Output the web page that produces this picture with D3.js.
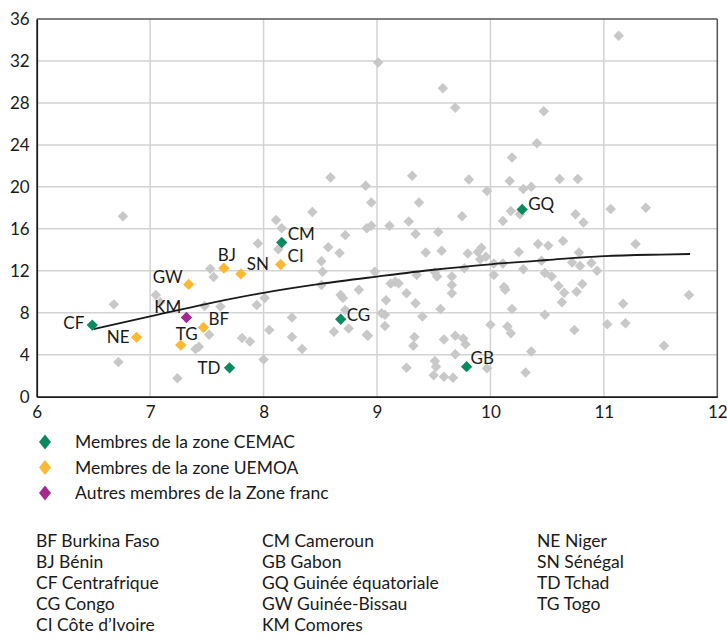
<!DOCTYPE html>
<html>
<head>
<meta charset="utf-8">
<script src="https://cdn.jsdelivr.net/npm/d3@7"></script>
<style>
  body { margin: 0; background: #fff; }
  svg text { font-family: Lato, "Open Sans", sans-serif; fill: #1a1a1a; }
</style>
</head>
<body>
<div id="chart"></div>
<script>
// gray points: other countries [x, y]
var otherPoints = [
  [6.76,17.2],[6.68,8.8],[6.72,3.3],[7.05,9.7],[7.09,9.0],[7.24,1.75],[7.53,12.2],[7.56,11.4],
  [7.48,8.65],[7.62,8.6],[7.52,5.9],[7.40,4.55],[7.43,4.75],[7.95,14.6],[7.94,8.75],[8.01,9.4],
  [7.81,5.6],[7.88,5.25],[8.05,6.35],[8.00,3.55],[8.11,16.85],[8.16,16.05],[8.13,14.05],[8.25,7.55],
  [8.25,5.7],[8.34,4.55],[8.43,17.6],[8.57,14.25],[8.51,12.9],[8.52,11.9],[8.51,10.65],[8.67,13.7],
  [8.72,15.4],[8.91,16.05],[8.68,9.7],[8.70,9.4],[8.62,6.2],[8.75,6.5],[8.72,8.27],[8.84,10.2],
  [8.91,5.9],[9.01,31.85],[9.58,29.4],[9.69,27.55],[8.59,20.9],[8.90,20.1],[9.31,21.05],[9.81,20.7],
  [8.95,18.5],[9.37,18.5],[9.75,17.2],[8.95,16.3],[9.11,16.3],[9.28,16.7],[9.34,15.5],[9.54,15.7],
  [8.98,11.9],[9.43,13.75],[9.57,13.9],[9.80,13.65],[9.51,11.85],[9.53,11.45],[9.66,11.45],[9.66,10.65],
  [9.66,9.85],[9.35,11.6],[9.12,10.8],[9.16,10.95],[9.19,10.8],[9.26,9.85],[9.08,9.2],[9.34,8.9],
  [9.56,8.35],[9.04,7.95],[9.07,7.8],[9.40,7.65],[9.07,6.75],[8.92,5.8],[9.33,5.7],[9.32,4.85],
  [9.59,5.45],[9.69,5.8],[9.76,5.55],[9.78,5.0],[9.51,3.4],[9.52,2.85],[9.69,4.05],[9.26,2.75],
  [9.50,2.05],[9.59,1.9],[9.67,1.8],[9.92,14.2],[9.89,13.8],[9.96,13.35],[9.91,13.1],[9.77,12.25],
  [10.03,12.7],[10.03,11.6],[10.11,12.7],[9.97,2.7],[10.0,6.85],[10.19,8.35],[10.15,6.7],[10.18,6.05],
  [10.36,4.3],[10.31,2.3],[10.12,10.45],[10.13,10.2],[10.29,12.15],[11.13,34.4],[10.47,27.2],[10.41,24.15],
  [10.19,22.8],[10.17,20.55],[10.61,20.75],[10.77,20.75],[9.97,19.6],[10.29,19.8],[10.36,20.0],[10.18,17.7],
  [10.26,17.4],[10.11,16.75],[10.75,17.4],[10.82,16.6],[11.06,17.9],[11.37,18.0],[10.25,13.8],[10.42,14.55],
  [10.51,14.4],[10.64,14.85],[10.45,12.95],[10.48,11.8],[10.54,11.45],[10.78,13.75],[10.72,12.8],[10.79,12.45],
  [10.89,12.75],[10.94,12.0],[10.60,10.55],[10.65,9.9],[10.81,10.75],[10.76,10.0],[10.63,9.0],[10.48,7.8],
  [10.74,6.35],[11.28,14.55],[11.17,8.85],[11.03,6.9],[11.19,7.0],[11.53,4.85],[11.75,9.7]
];

// Zone franc countries
var codes  = ["CF","NE","GW","BJ","SN","CI","CM","KM","BF","TG","TD","CG","GB","GQ"];
var xs     = [6.49,6.88,7.34,7.65,7.80,8.15,8.16,7.32,7.47,7.27,7.70,8.68,9.79,10.28];
var ys     = [6.83,5.66,10.7,12.25,11.7,12.6,14.7,7.55,6.6,4.93,2.75,7.38,2.86,17.85];
var groups = ["CEMAC","UEMOA","UEMOA","UEMOA","UEMOA","UEMOA","CEMAC","Autres","UEMOA","UEMOA","CEMAC","CEMAC","CEMAC","CEMAC"];

// trend curve
var trendX = [6.5,7,7.5,8,8.5,9,9.5,10,10.5,11,11.5,11.76];
var trendY = [6.45,7.65,8.85,9.9,10.75,11.45,12.1,12.62,13.03,13.4,13.55,13.6];

var xTicks = [6,7,8,9,10,11,12];
var yTicks = [0,4,8,12,16,20,24,28,32,36];

var legendLabels = ["Membres de la zone CEMAC","Membres de la zone UEMOA","Autres membres de la Zone franc"];
var legendKeys = ["CEMAC","UEMOA","Autres"];

var footCol1 = ["BF Burkina Faso","BJ Bénin","CF Centrafrique","CG Congo","CI Côte d’Ivoire"];
var footCol2 = ["CM Cameroun","GB Gabon","GQ Guinée équatoriale","GW Guinée-Bissau","KM Comores"];
var footCol3 = ["NE Niger","SN Sénégal","TD Tchad","TG Togo"];

var colors = {CEMAC: "#0b8a5f", UEMOA: "#fdb933", Autres: "#a5288e"};

// label offsets relative to marker
var labelPos = {
  CF: [-8, -2, "end"], NE: [-7, 0, "end"], GW: [-6, -7, "end"], BJ: [3, -13, "middle"],
  SN: [6, -10, "start"], CI: [7, -8, "start"], CM: [6, -8, "start"], KM: [-5, -10, "end"],
  BF: [5, -8, "start"], TG: [6, -11, "middle"], TD: [-9, 0, "end"], CG: [6, -4, "start"],
  GB: [4, -9, "start"], GQ: [6, -5, "start"]
};

var svgWidth = 727, svgHeight = 640;
var margin = {top: 19, left: 36.7};
var width = 717.3 - margin.left;
var height = 396.7 - margin.top;

var svg = d3.select("#chart").append("svg")
  .attr("width", svgWidth)
  .attr("height", svgHeight);

var g = svg.append("g")
  .attr("transform", `translate(${margin.left},${margin.top})`);

var x = d3.scaleLinear().domain([6, 12]).range([0, width]);
var y = d3.scaleLinear().domain([0, 36]).range([height, 0]);

// grid
g.selectAll(".vgrid").data(xTicks.slice(1, -1)).enter().append("line")
  .attr("x1", d => x(d)).attr("x2", d => x(d))
  .attr("y1", 0).attr("y2", height)
  .attr("stroke", "#d3d3d3").attr("stroke-width", 1.5);
g.selectAll(".hgrid").data(yTicks.slice(1, -1)).enter().append("line")
  .attr("x1", 0).attr("x2", width)
  .attr("y1", d => y(d)).attr("y2", d => y(d))
  .attr("stroke", "#d3d3d3").attr("stroke-width", 1.5);

// frame
g.append("line").attr("x1", 0).attr("x2", width).attr("y1", 0).attr("y2", 0)
  .attr("stroke", "#555").attr("stroke-width", 1.5);
g.append("line").attr("x1", width).attr("x2", width).attr("y1", 0).attr("y2", height)
  .attr("stroke", "#555").attr("stroke-width", 1.5);

// axes
var xAxis = g.append("g").attr("transform", `translate(0,${height})`)
  .call(d3.axisBottom(x).tickValues(xTicks).tickFormat(d3.format("d")).tickSize(0).tickPadding(9));
var yAxis = g.append("g")
  .call(d3.axisLeft(y).tickValues(yTicks).tickFormat(d3.format("d")).tickSize(0).tickPadding(7));
[xAxis, yAxis].forEach(function(a) {
  a.select(".domain").attr("stroke", "#1a1a1a").attr("stroke-width", 1.8);
  a.selectAll("text").attr("font-size", "17px").attr("font-family", "Lato, sans-serif").attr("fill", "#1a1a1a");
});

var diamond = d3.symbol().type(d3.symbolSquare);

// gray points
g.selectAll(".other").data(otherPoints).enter().append("path")
  .attr("d", diamond.size(55)())
  .attr("transform", d => `translate(${x(d[0])},${y(d[1])}) rotate(45)`)
  .attr("fill", "#c8c8c8");

// trend
var trend = trendX.map((v, i) => [v, trendY[i]]);
g.append("path")
  .datum(trend)
  .attr("fill", "none")
  .attr("stroke", "#1a1a1a")
  .attr("stroke-width", 1.8)
  .attr("d", d3.line().x(d => x(d[0])).y(d => y(d[1])).curve(d3.curveMonotoneX));

// zone franc points
var zf = codes.map((c, i) => ({code: c, x: xs[i], y: ys[i], group: groups[i]}));
g.selectAll(".zf").data(zf).enter().append("path")
  .attr("d", diamond.size(64)())
  .attr("transform", d => `translate(${x(d.x)},${y(d.y)}) rotate(45)`)
  .attr("fill", d => colors[d.group]);

g.selectAll(".zflabel").data(zf).enter().append("text")
  .attr("x", d => x(d.x) + labelPos[d.code][0])
  .attr("y", d => y(d.y) + labelPos[d.code][1])
  .attr("dy", "0.35em")
  .attr("text-anchor", d => labelPos[d.code][2])
  .attr("font-size", "17px")
  .text(d => d.code);

// legend
var legend = svg.append("g").attr("transform", "translate(45,442)");
legendKeys.forEach(function(k, i) {
  var row = legend.append("g").attr("transform", `translate(0,${i * 25.5})`);
  row.append("path").attr("d", "M0,-7.5L6,0L0,7.5L-6,0Z").attr("fill", colors[k]);
  row.append("text").attr("x", 30).attr("dy", "0.35em").attr("font-size", "17.5px").text(legendLabels[i]);
});

// footnote of country codes
var cols = [[footCol1, 36], [footCol2, 262], [footCol3, 537]];
cols.forEach(function(c) {
  svg.append("g").selectAll("text").data(c[0]).enter().append("text")
    .attr("x", c[1])
    .attr("y", (d, i) => 541 + i * 21)
    .attr("dy", "0.35em")
    .attr("font-size", "17.5px")
    .text(d => d);
});
</script>
</body>
</html>
